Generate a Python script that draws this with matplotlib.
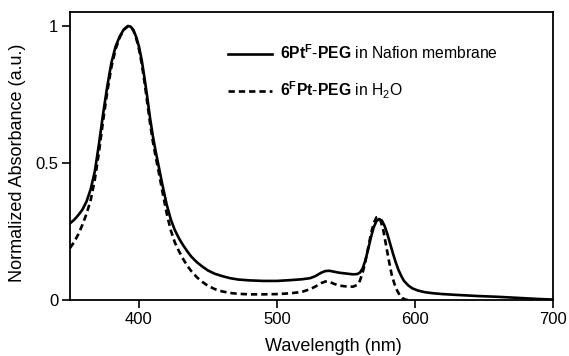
import numpy as np
import matplotlib.pyplot as plt

plt.rcParams['font.family'] = ['Liberation Sans', 'DejaVu Sans']
plt.rcParams['mathtext.fontset'] = 'custom'
plt.rcParams['mathtext.rm'] = 'Liberation Sans'
plt.rcParams['mathtext.it'] = 'Liberation Sans:italic'
plt.rcParams['mathtext.bf'] = 'Liberation Sans:bold'

# 6PtF-PEG in Nafion membrane (solid)
wl_nafion = [350, 353, 356, 359, 362, 365, 368, 371, 374, 377, 380, 383, 386, 389,
             392, 394, 396, 398, 400, 402, 404, 406, 408, 410, 412, 414, 417, 420,
             423, 426, 429, 432, 435, 438, 442, 446, 450, 455, 460, 466, 472, 480,
             490, 500, 510, 518, 524, 528, 532, 535, 538, 541, 545, 550, 555, 558,
             560, 562, 564, 566, 568, 570, 572, 574, 576, 578, 580, 582, 584, 586,
             588, 590, 592, 595, 598, 602, 607, 613, 620, 630, 645, 660, 675, 690, 700]
abs_nafion = [0.280, 0.293, 0.310, 0.330, 0.360, 0.405, 0.470, 0.570, 0.680, 0.780,
              0.866, 0.925, 0.962, 0.988, 1.000, 0.998, 0.985, 0.960, 0.925, 0.875,
              0.810, 0.740, 0.665, 0.600, 0.545, 0.495, 0.420, 0.350, 0.295, 0.255,
              0.225, 0.200, 0.178, 0.158, 0.138, 0.122, 0.108, 0.096, 0.088, 0.080,
              0.075, 0.072, 0.070, 0.070, 0.073, 0.076, 0.080, 0.088, 0.100, 0.106,
              0.107, 0.104, 0.100, 0.097, 0.094, 0.095, 0.100, 0.115, 0.145, 0.185,
              0.228, 0.265, 0.288, 0.296, 0.290, 0.270, 0.240, 0.205, 0.170, 0.138,
              0.110, 0.088, 0.070, 0.054, 0.043, 0.035, 0.029, 0.025, 0.022, 0.019,
              0.015, 0.012, 0.008, 0.004, 0.002]

# 6FPt-PEG in H2O (dashed)
wl_water = [350, 353, 356, 359, 362, 365, 368, 371, 374, 377, 380, 383, 386, 389,
            392, 394, 396, 398, 400, 402, 404, 406, 408, 410, 412, 414, 417, 420,
            423, 426, 429, 432, 435, 438, 442, 446, 450, 455, 460, 466, 472, 480,
            490, 500, 510, 518, 524, 528, 532, 535, 538, 541, 545, 550, 555, 558,
            560, 562, 564, 566, 568, 570, 572, 573, 575, 577, 579, 581, 583, 585,
            587, 589, 591, 593, 595]
abs_water = [0.190, 0.212, 0.240, 0.275, 0.315, 0.365, 0.440, 0.540, 0.655, 0.760,
             0.850, 0.915, 0.958, 0.986, 1.000, 0.998, 0.983, 0.955, 0.915, 0.862,
             0.795, 0.720, 0.645, 0.580, 0.525, 0.475, 0.395, 0.318, 0.255, 0.210,
             0.178, 0.150, 0.125, 0.105, 0.083, 0.066, 0.052, 0.040, 0.032, 0.026,
             0.023, 0.021, 0.021, 0.022, 0.025, 0.030, 0.040, 0.050, 0.062, 0.068,
             0.067, 0.060, 0.053, 0.050, 0.049, 0.055, 0.070, 0.100, 0.140, 0.190,
             0.240, 0.280, 0.302, 0.304, 0.290, 0.255, 0.200, 0.145, 0.095, 0.060,
             0.035, 0.017, 0.007, 0.002, 0.000]

fig = plt.figure(figsize=(5.69, 3.56), dpi=100)
ax = fig.add_axes([0.123, 0.157, 0.849, 0.809])

ax.plot(wl_nafion, abs_nafion, color='black', linewidth=1.9,
        label=r'$\mathbf{6Pt^F}$-$\mathbf{PEG}$ in Nafion membrane')
ax.plot(wl_water, abs_water, color='black', linewidth=1.9, dashes=(2.4, 1.5),
        label=r'$\mathbf{6^FPt}$-$\mathbf{PEG}$ in H$_2$O')

ax.set_xlim(350, 700)
ax.set_ylim(0, 1.051)
ax.set_xticks([400, 500, 600, 700])
ax.set_yticks([0, 0.5, 1])
ax.set_yticklabels(['0', '0.5', '1'])
ax.tick_params(direction='out', length=5.5, width=1.2, labelsize=12, pad=3)
for s in ax.spines.values():
    s.set_linewidth(1.3)

ax.set_xlabel('Wavelength (nm)', fontsize=13)
ax.set_ylabel('Normalized Absorbance (a.u.)', fontsize=13)
ax.xaxis.set_label_coords(0.545, -0.13)
ax.yaxis.set_label_coords(-0.092, 0.476)

ax.legend(loc='upper left', bbox_to_anchor=(0.4007, 0.878), bbox_transform=fig.transFigure,
          frameon=False, fontsize=11.3, handlelength=2.8, handletextpad=0.5,
          labelspacing=1.1, borderpad=0, borderaxespad=0)

plt.savefig('out.png', dpi=100)
